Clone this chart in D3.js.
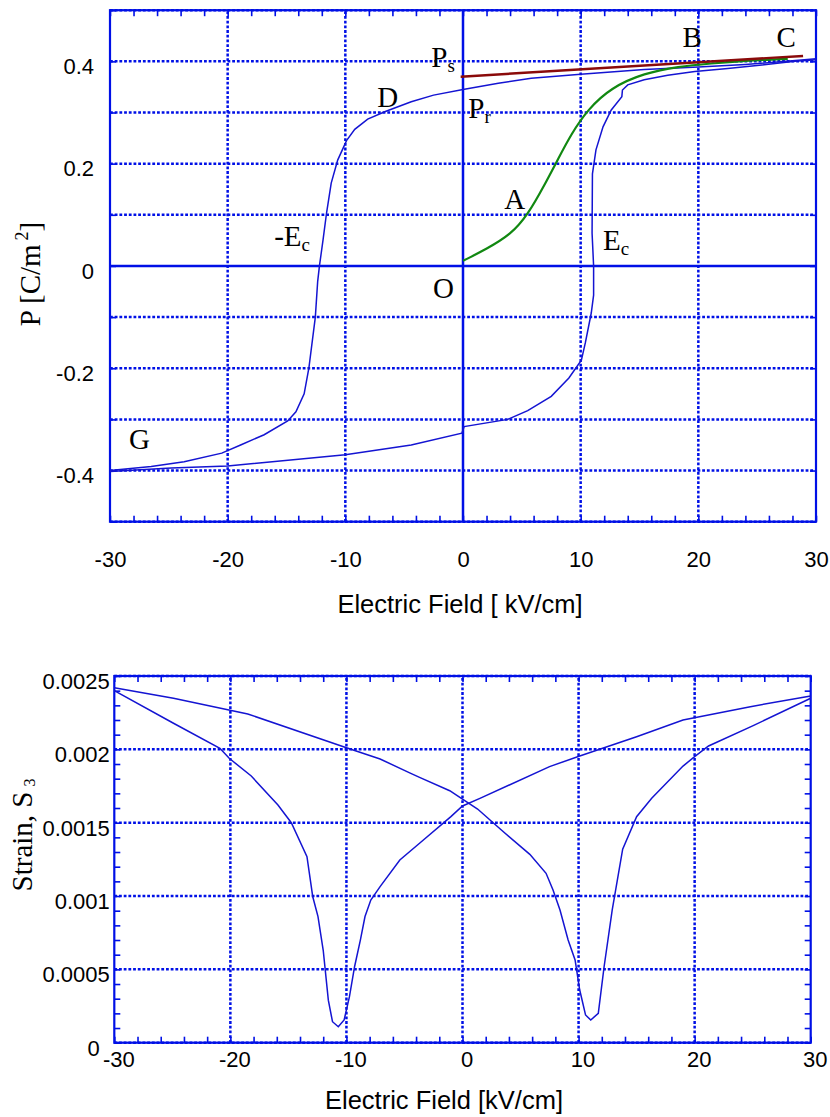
<!DOCTYPE html>
<html>
<head>
<meta charset="utf-8">
<script src="https://cdn.jsdelivr.net/npm/d3@7"></script>
<style>
  body { margin: 0; background: #fff; }
  .tick text { font-family: "Liberation Sans", Arial, sans-serif; fill: #000; }
  .serif { font-family: "Liberation Serif", "Times New Roman", serif; fill: #000; }
  .sans { font-family: "Liberation Sans", Arial, sans-serif; fill: #000; }
</style>
</head>
<body>
<div id="chart"></div>
<script>
// ---- DATA ----
// tick labels
const fieldTicks = [-30, -20, -10, 0, 10, 20, 30];
const polTicks = [-0.4, -0.2, 0, 0.2, 0.4];
const strainTicks = [0, 0.0005, 0.001, 0.0015, 0.002, 0.0025];
const fieldGrid = [-20, -10, 0, 10, 20];

// P-E loop, field rising (-30 -> 30)
const riseE = [-30, -24.8, -20, -10, -4.4, -0.1, 0.1, 3.8, 5.5, 7.5, 9.0, 10.06, 10.4, 10.9, 11.1, 11.1, 10.97, 11.0, 11.3, 11.9, 12.6, 13.5, 13.55, 14.0, 15.4, 17.4, 19.7, 22.5, 25.4, 28.2, 30];
const riseP = [-0.402, -0.395, -0.391, -0.369, -0.35, -0.327, -0.314, -0.30, -0.283, -0.255, -0.219, -0.184, -0.15, -0.092, -0.057, 0.0, 0.064, 0.18, 0.227, 0.272, 0.305, 0.331, 0.344, 0.354, 0.364, 0.373, 0.38, 0.386, 0.393, 0.40, 0.403];
// P-E loop, field falling (30 -> -30)
const fallE = [30, 28, 24, 20, 15.4, 10, 5.8, 3, 0, -2.5, -4.4, -6.6, -8.1, -9.2, -9.9, -10.65, -11.2, -11.6, -11.9, -12.2, -12.35, -12.55, -13.1, -13.5, -14.2, -14.9, -16.9, -18.9, -20.5, -23.7, -26.5, -30];
const fallP = [0.405, 0.401, 0.394, 0.389, 0.384, 0.375, 0.367, 0.357, 0.345, 0.334, 0.321, 0.302, 0.287, 0.267, 0.245, 0.207, 0.162, 0.103, 0.05, 0.0, -0.03, -0.1, -0.2, -0.25, -0.285, -0.303, -0.33, -0.35, -0.366, -0.383, -0.392, -0.400];
// virgin curve O-A-B-C
const virginE = [0, 2, 4.1, 5.5, 6.9, 8.1, 9.2, 10.6, 12.6, 15.4, 18.3, 21.1, 23.9, 27.6];
const virginP = [0.01, 0.033, 0.062, 0.1, 0.157, 0.21, 0.258, 0.306, 0.349, 0.377, 0.39, 0.396, 0.401, 0.405];
// saturation tangent (Ps)
const psE = [-0.2, 28.9];
const psP = [0.370, 0.4106];

// strain butterfly, field rising
const sRiseE = [-30, -24.9, -18.5, -10.0, -7.1, -4.55, -3.7, -1.1, 0, 1.3, 3.35, 5.8, 7.2, 7.8, 8.4, 9.1, 9.7, 10.1, 10.6, 11.05, 11.7, 12.2, 12.9, 13.8, 15.0, 16.3, 19.0, 20.0, 21.2, 25.0, 30];
const sRiseS = [0.00242, 0.002348, 0.002241, 0.002011, 0.001934, 0.00184, 0.001809, 0.001718, 0.00166, 0.001593, 0.00145, 0.001284, 0.001155, 0.001041, 0.000905, 0.0007, 0.000564, 0.000359, 0.000189, 0.000155, 0.0002, 0.000518, 0.000905, 0.001319, 0.001541, 0.001666, 0.001886, 0.00195, 0.002023, 0.00216, 0.002348];
// strain butterfly, field falling
const sFallE = [30, 24.8, 19.0, 15.0, 10.1, 7.5, 1.5, 0, -1.0, -3.7, -5.4, -7.1, -7.9, -8.4, -8.8, -9.3, -9.74, -10.2, -10.7, -11.2, -11.56, -12.0, -12.45, -12.9, -13.4, -14.75, -15.9, -18.2, -20.1, -20.9, -24.9, -30];
const sFallS = [0.002364, 0.002291, 0.0022, 0.002086, 0.001955, 0.001882, 0.001666, 0.001614, 0.001541, 0.00136, 0.001246, 0.001064, 0.000973, 0.00086, 0.0007, 0.000518, 0.000314, 0.000155, 0.000109, 0.000143, 0.00029, 0.00063, 0.00086, 0.000995, 0.001268, 0.0015, 0.00162, 0.001818, 0.001939, 0.002007, 0.002178, 0.0024];

// point labels on the P-E plot: [E, P, main, subscript]
const peLabels = [
  [-7.29, 0.311, "D", ""],
  [-2.69, 0.388, "P", "s"],
  [0.45, 0.289, "P", "r"],
  [18.65, 0.428, "B", ""],
  [26.64, 0.428, "C", ""],
  [3.51, 0.111, "A", ""],
  [11.9, 0.031, "E", "c"],
  [-16.05, 0.039, "-E", "c"],
  [-2.55, -0.063, "O", ""],
  [-28.38, -0.358, "G", ""]
];

// ---- STYLE ----
const gridBlue = "#0010e6";
const lineBlue = "#1414d2";
const dots = "2.8,1.9";

const svg = d3.select("#chart").append("svg")
  .attr("width", 830)
  .attr("height", 1117);

// draws frame, grid, inward minor ticks
function drawFrame(x, y, xMinor, yMinor, yGrid, solidZero) {
  const [x0, x1] = x.range();
  const [y0, y1] = y.range(); // y0 bottom, y1 top
  const g = svg.append("g");

  g.append("g").selectAll("line").data(fieldGrid).join("line")
    .attr("x1", d => x(d)).attr("x2", d => x(d))
    .attr("y1", y0).attr("y2", y1)
    .attr("stroke", gridBlue).attr("stroke-width", 2.5)
    .attr("stroke-dasharray", d => (solidZero && d === 0) ? null : dots);

  g.append("g").selectAll("line").data(yGrid).join("line")
    .attr("x1", x0).attr("x2", x1)
    .attr("y1", d => y(d)).attr("y2", d => y(d))
    .attr("stroke", gridBlue).attr("stroke-width", 2.5)
    .attr("stroke-dasharray", d => (solidZero && Math.abs(d) < 1e-9) ? null : dots);

  // minor ticks pointing in
  const axes = [
    [d3.axisBottom(x).tickValues(xMinor), `translate(0,${y0})`],
    [d3.axisTop(x).tickValues(xMinor), `translate(0,${y1})`],
    [d3.axisLeft(y).tickValues(yMinor), `translate(${x0},0)`],
    [d3.axisRight(y).tickValues(yMinor), `translate(${x1},0)`]
  ];
  axes.forEach(([ax, tr]) => {
    const a = g.append("g").attr("transform", tr)
      .call(ax.tickSize(-6).tickFormat(""));
    a.select(".domain").remove();
    a.selectAll(".tick line").attr("stroke", gridBlue).attr("stroke-width", 1.6);
  });

  g.append("rect")
    .attr("x", x0).attr("y", y1)
    .attr("width", x1 - x0).attr("height", y0 - y1)
    .attr("fill", "none")
    .attr("stroke", gridBlue).attr("stroke-width", 2.2);
}

function tickLabels(x, y, xVals, yVals, xPad, yPad, size, xShift, zeroShift) {
  const [y0] = y.range();
  const [x0] = x.range();
  const bx = svg.append("g").attr("transform", `translate(0,${y0})`)
    .call(d3.axisBottom(x).tickValues(xVals).tickSize(0).tickPadding(xPad).tickFormat(d => String(d)));
  bx.select(".domain").remove();
  bx.selectAll(".tick text").attr("font-size", size).attr("dx", xShift);

  const ly = svg.append("g").attr("transform", `translate(${x0},0)`)
    .call(d3.axisLeft(y).tickValues(yVals).tickSize(0).tickPadding(yPad).tickFormat(d => String(d)));
  ly.select(".domain").remove();
  ly.selectAll(".tick text").attr("font-size", size).attr("dy", "0.56em")
    .attr("dx", d => d === 0 ? zeroShift : 0);
}

// ---- 1: P-E HYSTERESIS ----
const xP = d3.scaleLinear().domain([-30, 30]).range([110, 816]);
const yP = d3.scaleLinear().domain([-0.5, 0.5]).range([521.7, 10.2]);

drawFrame(xP, yP, xP.ticks(30), yP.ticks(10), yP.ticks(10), true);
tickLabels(xP, yP, fieldTicks, polTicks, 29.5, 16, 22, 0, 0);

const lineP = d3.line().x(d => xP(d[0])).y(d => yP(d[1]));

svg.append("path").datum(d3.zip(riseE, riseP))
  .attr("d", lineP).attr("fill", "none")
  .attr("stroke", lineBlue).attr("stroke-width", 1.5);
svg.append("path").datum(d3.zip(fallE, fallP))
  .attr("d", lineP).attr("fill", "none")
  .attr("stroke", lineBlue).attr("stroke-width", 1.5);
svg.append("path").datum(d3.zip(virginE, virginP))
  .attr("d", d3.line().x(d => xP(d[0])).y(d => yP(d[1])).curve(d3.curveBasis))
  .attr("fill", "none")
  .attr("stroke", "#118811").attr("stroke-width", 2.2);
svg.append("path").datum(d3.zip(psE, psP))
  .attr("d", lineP).attr("fill", "none")
  .attr("stroke", "#8a0a0a").attr("stroke-width", 2.4);

peLabels.forEach(([e, p, main, sub]) => {
  const t = svg.append("text").attr("class", "serif")
    .attr("x", xP(e)).attr("y", yP(p))
    .attr("font-size", 29)
    .text(main);
  if (sub) {
    t.append("tspan").attr("font-size", 19).attr("dy", 5).text(sub);
  }
});

// axis titles
svg.append("text").attr("class", "sans")
  .attr("x", 460).attr("y", 613)
  .attr("text-anchor", "middle").attr("font-size", 25.5)
  .text("Electric Field [ kV/cm]");

const pTitle = svg.append("text").attr("class", "serif")
  .attr("transform", "translate(40,274) rotate(-90)")
  .attr("text-anchor", "middle").attr("font-size", 29)
  .text("P [C/m");
pTitle.append("tspan").attr("font-size", 18).attr("dx", 4).attr("dy", -12).text("2");
pTitle.append("tspan").attr("dy", 12).text("]");

// ---- 2: STRAIN BUTTERFLY ----
const xS = d3.scaleLinear().domain([-30, 30]).range([114.3, 810.7]);
const yS = d3.scaleLinear().domain([0, 0.0025]).range([1042.7, 676]);

drawFrame(xS, yS, xS.ticks(30), yS.ticks(25), strainTicks, false);
tickLabels(xS, yS, fieldTicks, strainTicks, 8.5, 4.5, 22, 4, -10);

const lineS = d3.line().x(d => xS(d[0])).y(d => yS(d[1]));
svg.append("path").datum(d3.zip(sRiseE, sRiseS))
  .attr("d", lineS).attr("fill", "none")
  .attr("stroke", lineBlue).attr("stroke-width", 1.5);
svg.append("path").datum(d3.zip(sFallE, sFallS))
  .attr("d", lineS).attr("fill", "none")
  .attr("stroke", lineBlue).attr("stroke-width", 1.5);

svg.append("text").attr("class", "sans")
  .attr("x", 444).attr("y", 1109)
  .attr("text-anchor", "middle").attr("font-size", 25.5)
  .text("Electric Field [kV/cm]");

const sTitle = svg.append("text").attr("class", "serif")
  .attr("transform", "translate(32,835) rotate(-90)")
  .attr("text-anchor", "middle").attr("font-size", 29)
  .text("Strain, S");
sTitle.append("tspan").attr("font-size", 16).attr("dx", 5).attr("dy", 3).text("3");
</script>
</body>
</html>
